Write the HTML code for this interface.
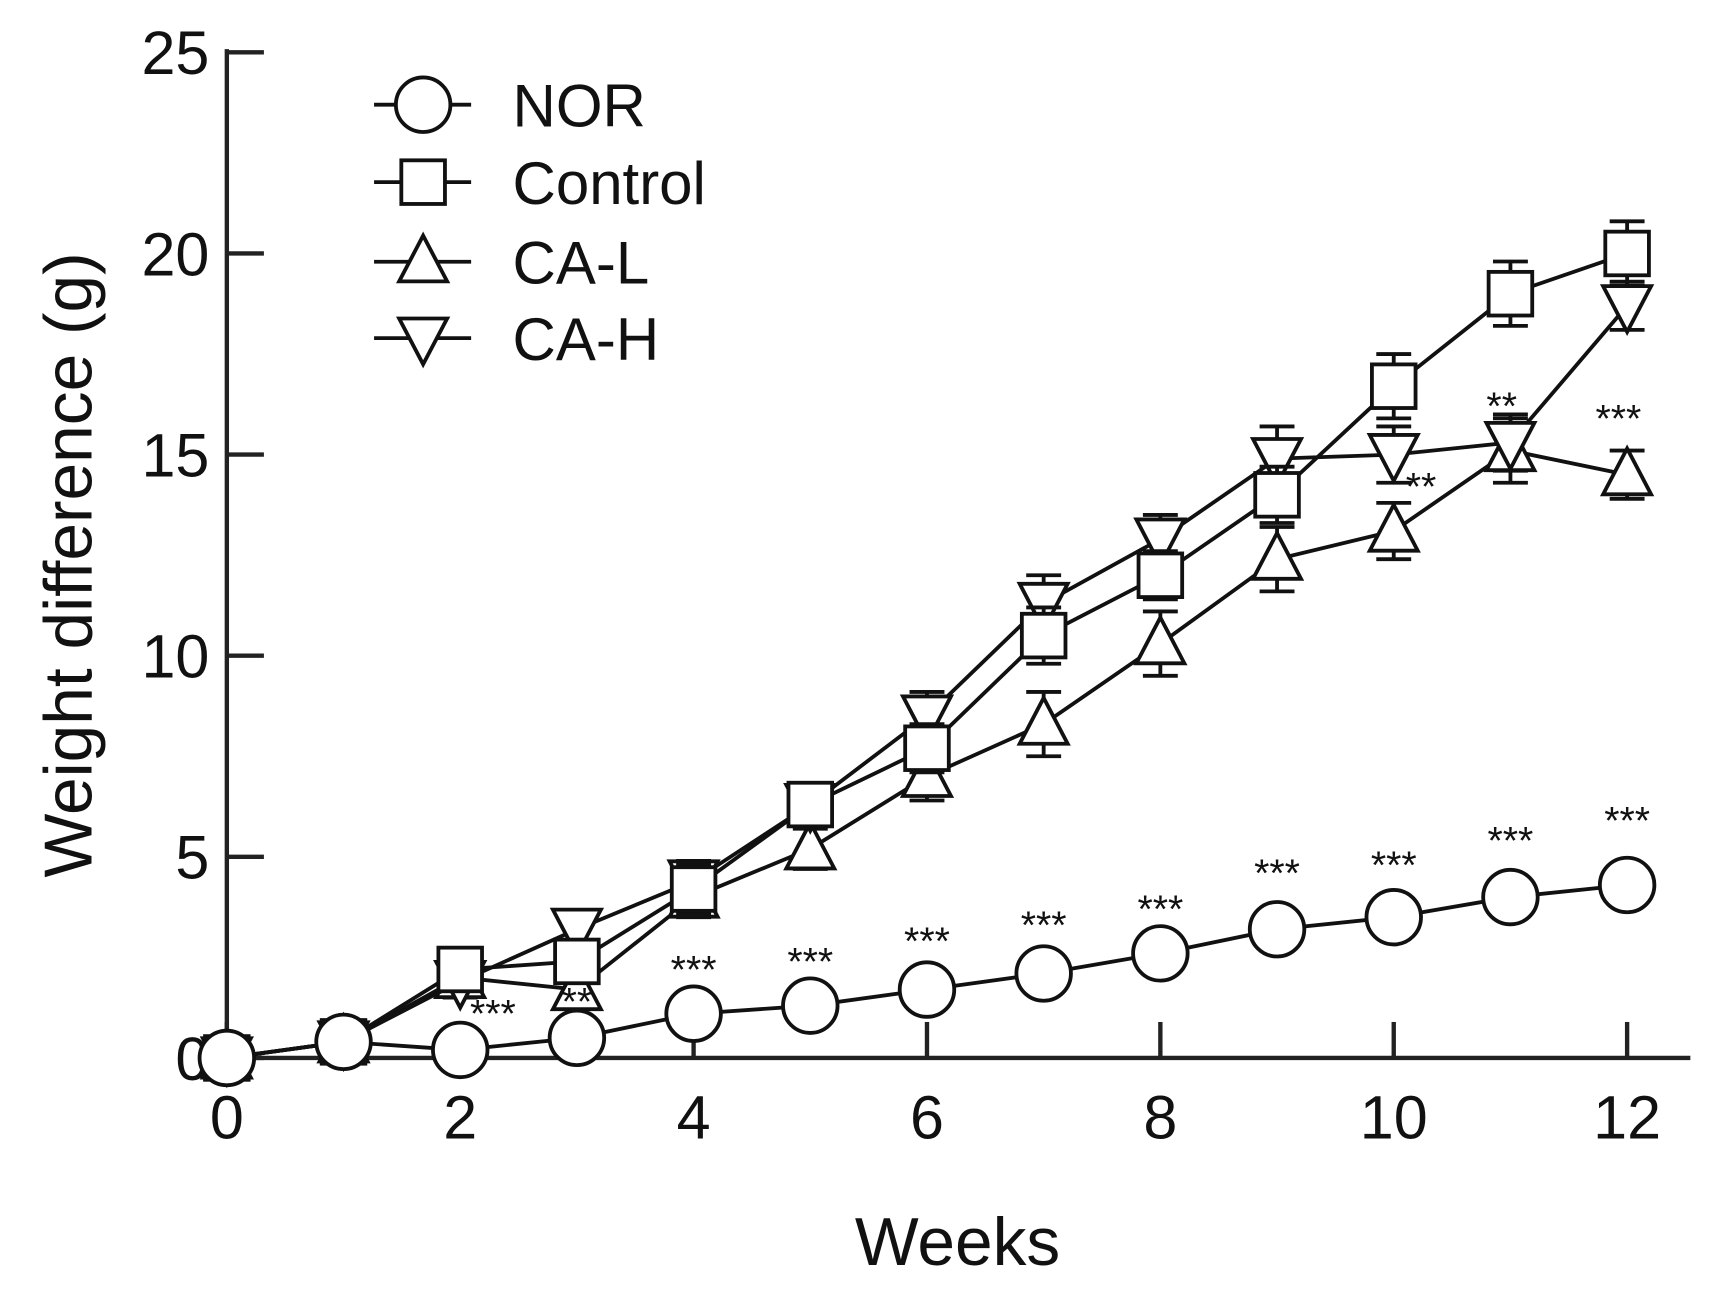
<!DOCTYPE html>
<html><head><meta charset="utf-8"><style>
html,body{margin:0;padding:0;background:#fff;width:1710px;height:1299px;overflow:hidden}
svg{display:block}
text{font-family:"Liberation Sans",sans-serif;fill:#111}
</style></head><body>
<svg id="chart" width="1710" height="1299" viewBox="0 0 1568 1191" preserveAspectRatio="none" xmlns="http://www.w3.org/2000/svg">
<g id="axes"></g>
<g id="series"></g>
<g id="legend"></g>
</svg>
<script>
const weeks=[0,1,2,3,4,5,6,7,8,9,10,11,12];
const norVals=[0,0.4,0.2,0.5,1.1,1.3,1.7,2.1,2.6,3.2,3.5,4.0,4.3];
const controlVals=[0,0.4,2.2,2.4,4.2,6.3,7.7,10.5,12.0,14.0,16.7,19.0,20.0];
const calVals=[0,0.4,2.0,1.7,4.0,5.2,7.0,8.3,10.3,12.4,13.1,15.1,14.5];
const cahVals=[0,0.4,1.9,3.2,4.4,6.3,8.5,11.3,12.9,14.9,15.0,15.3,18.7];
const controlErr=[0,0.3,0.4,0.4,0.6,0.5,0.6,0.7,0.6,0.7,0.8,0.8,0.8];
const calErr=[0,0.3,0.4,0.4,0.5,0.5,0.6,0.8,0.8,0.8,0.7,0.8,0.6];
const cahErr=[0,0.3,0.4,0.4,0.5,0.5,0.6,0.7,0.6,0.8,0.7,0.7,0.6];
const yTicks=[0,5,10,15,20,25];
const xTicks=[0,2,4,6,8,10,12];
const sigNor=[[2,"***"],[3,"**"],[4,"***"],[5,"***"],[6,"***"],[7,"***"],[8,"***"],[9,"***"],[10,"***"],[11,"***"],[12,"***"]];
const sigNorY=[1.2,1.5,2.3,2.5,3.0,3.4,3.8,4.7,4.9,5.5,6.0];
const sigCa=[[10,"**",14.3],[11,"**",16.3],[12,"***",16.0]];

const NS="http://www.w3.org/2000/svg";
const X=w=>208+w*107;
const Y=v=>970-v*36.88;
function mk(tag,attrs,parent,txt){const e=document.createElementNS(NS,tag);for(const k in attrs)e.setAttribute(k,attrs[k]);if(txt!==undefined)e.textContent=txt;parent.appendChild(e);return e;}
const axes=document.getElementById('axes'),ser=document.getElementById('series'),leg=document.getElementById('legend');
const ST={stroke:"#222","stroke-width":4,fill:"none"};

let a=mk('line',{x1:208,y1:45,x2:208,y2:972,...ST},axes);

a=mk('line',{x1:206,y1:970,x2:1550,y2:970,...ST},axes);

yTicks.forEach(v=>{
 let t=mk('line',{x1:208,y1:Y(v),x2:242,y2:Y(v),...ST},axes);
 
 let l=mk('text',{x:192,y:Y(v)+20,"font-size":56,"text-anchor":"end"},axes,String(v));
 
});
xTicks.forEach(w=>{
 let t=mk('line',{x1:X(w),y1:970,x2:X(w),y2:937,...ST},axes);
 
 let l=mk('text',{x:X(w),y:1044,"font-size":56,"text-anchor":"middle"},axes,String(w));
 
});
let xt=mk('text',{x:878,y:1160,"font-size":62,"text-anchor":"middle"},axes,"Weeks");

let yt=mk('text',{x:0,y:0,"font-size":62,"text-anchor":"middle",transform:"translate(84,518) rotate(-90)"},axes,"Weight difference (g)");


function marker(type,cx,cy,parent){
 let e;
 const s={stroke:"#111","stroke-width":3.5,fill:"#fff"};
 if(type==='circle') e=mk('circle',{cx,cy,r:25,...s},parent);
 else if(type==='square') e=mk('rect',{x:cx-20,y:cy-20,width:40,height:40,...s},parent);
 else if(type==='up') e=mk('polygon',{points:`${cx},${cy-24} ${cx+22},${cy+18} ${cx-22},${cy+18}`,...s},parent);
 else e=mk('polygon',{points:`${cx},${cy+24} ${cx+22},${cy-18} ${cx-22},${cy-18}`,...s},parent);
 return e;
}
function drawSeries(name,vals,errs,type){
 const g=mk('g',{},ser);
 
 const p=mk('polyline',{points:weeks.map((w,i)=>X(w)+','+Y(vals[i])).join(' '),stroke:"#111","stroke-width":3.5,fill:"none"},g);
 
 if(errs) weeks.forEach((w,i)=>{
  if(!errs[i])return;
  const x=X(w),y1=Y(vals[i]+errs[i]),y2=Y(vals[i]-errs[i]);
  const eb=mk('path',{d:`M${x},${y1}V${y2}M${x-16},${y1}H${x+16}M${x-16},${y2}H${x+16}`,stroke:"#111","stroke-width":3.5,fill:"none"},g);
  
 });
 weeks.forEach((w,i)=>{const m=marker(type,X(w),Y(vals[i]),g);
  });
}
drawSeries('ca-l',calVals,calErr,'up');
drawSeries('ca-h',cahVals,cahErr,'down');
drawSeries('control',controlVals,controlErr,'square');
drawSeries('nor',norVals,null,'circle');

sigNor.forEach((s,i)=>{
 const t=mk('text',{x:X(s[0])+(s[0]===2?30:0),y:Y(sigNorY[i])+16,"font-size":36,"text-anchor":"middle"},ser,s[1]);
 
});
sigCa.forEach(s=>{
 const t=mk('text',{x:X(s[0])+(s[0]===10?25:-8),y:Y(s[2])+16,"font-size":36,"text-anchor":"middle"},ser,s[1]);
 
});

const legNames=["NOR","Control","CA-L","CA-H"],legTypes=["circle","square","up","down"],legY=[96,167,240,310];
legNames.forEach((n,i)=>{
 const g=mk('g',{},leg);
 
 mk('line',{x1:343,y1:legY[i],x2:432,y2:legY[i],stroke:"#111","stroke-width":3.5},g);
 marker(legTypes[i],388,legY[i],g);
 mk('text',{x:470,y:legY[i]+20,"font-size":55},g,n);
});
</script>
</body></html>
